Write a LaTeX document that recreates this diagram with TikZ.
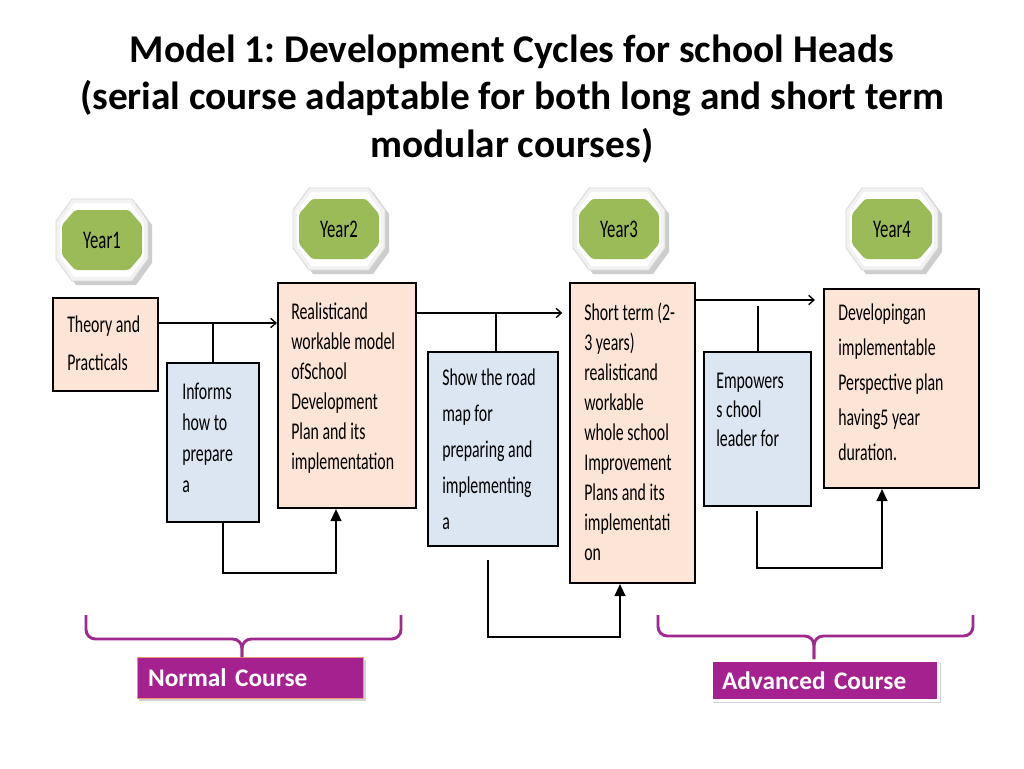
\documentclass[tikz,border=0pt]{standalone}
\usepackage{fontspec}
\setmainfont{Carlito}
\newfontfamily\narrowf{Carlito}[FakeStretch=0.66]
\usetikzlibrary{arrows.meta,shadows,calc}
\definecolor{peach}{RGB}{252,228,214}
\definecolor{lblue}{RGB}{220,230,242}
\definecolor{ygreen}{RGB}{155,187,89}
\definecolor{brc}{RGB}{158,42,142}
\definecolor{lbl}{RGB}{165,33,143}
\definecolor{lborder}{RGB}{236,150,110}
\frenchspacing
\newcommand\yearoct[4]{%
  \begin{scope}[shift={(#2,#3)}]
    \fill[gray!55,opacity=.7] (-26,-37)--(34,-37)--(50,-15)--(50,23)--(34,45)--(-26,45)--(-42,23)--(-42,-15)--cycle;
    \fill[gray!10,draw=gray!30,line width=.6pt] (-30,-41)--(30,-41)--(46,-19)--(46,19)--(30,41)--(-30,41)--(-46,19)--(-46,-19)--cycle;
    \fill[white] (-28,-37)--(28,-37)--(42,-17)--(42,17)--(28,37)--(-28,37)--(-42,17)--(-42,-17)--cycle;
    \fill[ygreen,rounded corners=2pt] (-27,-30)--(27,-30)--(40,-15)--(40,15)--(27,30)--(-27,30)--(-40,15)--(-40,-15)--cycle;
    \node[yeartxt] (#1) at (0,0) {#4};
  \end{scope}}
\begin{document}
\begin{tikzpicture}[x=0.75pt,y=-0.75pt,
  pbox/.style={draw=black,line width=1.5pt,fill=peach,inner sep=0pt,anchor=north west},
  bbox/.style={draw=black,line width=1.5pt,fill=lblue,inner sep=0pt,anchor=north west},
  sz/.style 2 args={minimum width=#1*0.75pt,minimum height=#2*0.75pt},
  btxt/.style={anchor=north west,inner sep=0pt,align=left,font=\narrowf\fontsize{18}{#1}\selectfont},
  yeartxt/.style={inner sep=0pt,font=\narrowf\fontsize{19}{20}\selectfont},
  harr/.style={line width=1.5pt,-{Straight Barb[length=4pt,width=7pt,line width=1pt]}},
  uparr/.style={line width=1.5pt,-{Triangle[length=9pt,width=8pt]}},
  thinl/.style={line width=0.9pt},
  brace/.style={draw=brc,line width=2.2pt,rounded corners=7pt},
  labbox/.style={fill=lbl,text=white,anchor=north west,align=left,
     font=\bfseries\fontsize{19}{21}\selectfont,inner ysep=0pt,inner xsep=8pt,
     drop shadow={shadow xshift=1.5pt,shadow yshift=-2pt,opacity=.35}}
]
\useasboundingbox (0,0) rectangle (1024,768);
\fill[white] (0,0) rectangle (1024,768);

% title
\node[font=\bfseries\fontsize{29.5}{35.6}\selectfont,align=center] (title) at (512,99)
  {Model 1: Development Cycles for school Heads\\(serial course adaptable for both long and short term\\modular courses)};

% year octagons
\yearoct{yr1}{102}{240}{Year1}
\yearoct{yr2}{339}{229}{Year2}
\yearoct{yr3}{619}{229}{Year3}
\yearoct{yr4}{892}{229}{Year4}

% boxes
\node[pbox,sz={105}{93}] (theory) at (52,297) {};
\node[bbox,sz={92}{159}] (informs) at (166,362) {};
\node[pbox,sz={138}{225}] (y2box) at (277,282) {};
\node[bbox,sz={130}{194}] (show) at (427,351) {};
\node[pbox,sz={125}{300}] (y3box) at (569,282) {};
\node[bbox,sz={107}{154}] (emp) at (703,351) {};
\node[pbox,sz={155}{199}] (y4box) at (823,288) {};

% box texts
\node[btxt=28.5] (theoryT) at (67,316) {Theory and\\Practicals};
\node[btxt=23.25] (informsT) at (182,383) {Informs\\how to\\prepare\\a};
\node[btxt=22.5] (y2T) at (291,303) {Realisticand\\workable model\\ofSchool\\Development\\Plan and its\\implementation};
\node[btxt=27] (showT) at (442,369) {Show the road\\map for\\preparing and\\implementing\\a};
\node[btxt=22.5] (y3T) at (584,303) {Short term (2-\\3 years)\\realisticand\\workable\\whole school\\Improvement\\Plans and its\\implementati\\on};
\node[btxt=21.75] (empT) at (716,373) {Empowers\\s chool\\leader for};
\node[btxt=26.25] (y4T) at (838,304) {Developingan\\implementable\\Perspective plan\\having5 year\\duration.};

% top connectors
\draw[harr] (theory.east |- 0,323) -- (y2box.west |- 0,323);
\draw[thinl] (informs.north) -- (informs.north |- 0,323);
\draw[harr,shorten >=5pt] (y2box.east |- 0,313) -- (y3box.west |- 0,313);
\draw[thinl] (show.north -| 496,0) -- (496,313);
\draw[harr,shorten >=6pt] (y3box.east |- 0,300) -- (y4box.west |- 0,300);
\draw[thinl] (emp.north -| 758,0) -- (758,306);

% bottom loops
\draw[thinl] (informs.south -| 223,0) -- (223,573);
\draw[uparr] (222,573) -| (y2box.south -| 336,0);
\draw[thinl] ($(show.south -| 488,0)+(0,13)$) -- (488,637);
\draw[uparr] (487,637) -| (y3box.south -| 620,0);
\draw[thinl] ($(emp.south -| 757,0)+(0,4)$) -- (757,568);
\draw[uparr] (756,568) -| (y4box.south -| 882,0);

% labels
\node[labbox,text width=205*0.75pt,minimum height=41*0.75pt,draw=lborder,line width=.6pt] (normal) at (137,657) {Normal Course};
\node[labbox,text width=206*0.75pt,minimum height=40*0.75pt,draw=white,line width=2pt] (adv) at (710,659) {Advanced Course};

% braces
\draw[brace] (86,615) |- (242,639) -- (normal.north -| 242,0);
\draw[brace] (401,615) |- (242,639) -- (normal.north -| 242,0);
\draw[brace] (658,615) |- (814,636) -- (adv.north -| 814,0);
\draw[brace] (973,615) |- (814,636) -- (adv.north -| 814,0);
\end{tikzpicture}
\end{document}
